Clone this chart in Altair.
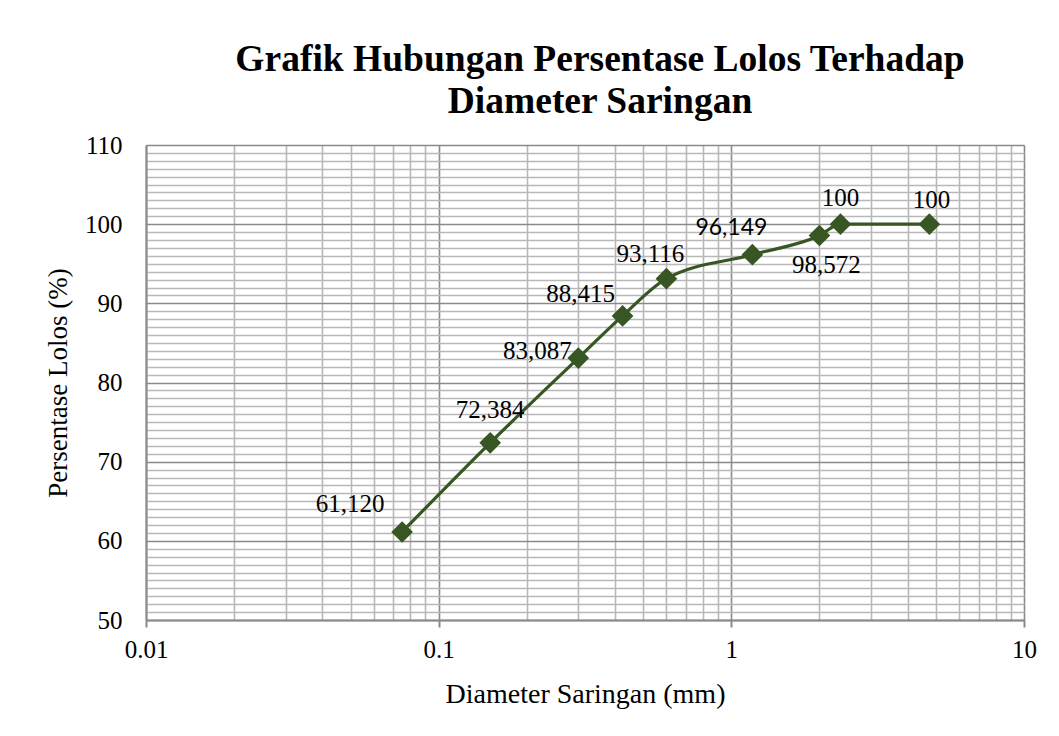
import altair as alt
import pandas as pd

# ---- data ----
diameter = [0.075, 0.15, 0.3, 0.425, 0.6, 1.18, 2.0, 2.36, 4.75]
lolos = [61.120, 72.384, 83.087, 88.415, 93.116, 96.149, 98.572, 100, 100]
labels = ["61,120", "72,384", "83,087", "88,415", "93,116", "96,149", "98,572", "100", "100"]

x_major = [0.01, 0.1, 1, 10]
y_major = [50, 60, 70, 80, 90, 100, 110]

df = pd.DataFrame({"d": diameter, "p": lolos, "lab": labels, "i": list(range(len(diameter)))})

# label styling (offsets in pixels, font)
label_style = [
    (-52, -28, "Liberation Serif"),
    (0, -33, "Liberation Serif"),
    (-41, -7, "Liberation Serif"),
    (-42, -22, "Liberation Serif"),
    (-16, -25, "Liberation Serif"),
    (-21, -27, "Lato"),
    (7, 30, "Liberation Serif"),
    (0, -26, "Liberation Serif"),
    (2, -24, "Liberation Serif"),
]

GREEN = "#375623"
MAJOR = "#8a8a8a"
MINOR = "#b8b8b8"
SERIF = "Liberation Serif"

x_vals = []
for dec in x_major[:-1]:
    for k in range(1, 10):
        x_vals.append(round(dec * k, 6))
x_vals.append(x_major[-1])
y_vals = list(range(y_major[0], y_major[-1] + 1))

is_x_major = "abs(log(datum.value)/LN10 - round(log(datum.value)/LN10)) < 1e-6"
is_y_major = "datum.value % 10 == 0"

x_enc = alt.X(
    "d:Q",
    scale=alt.Scale(type="log", domain=[x_major[0], x_major[-1]], nice=False),
    axis=alt.Axis(
        values=x_vals,
        tickCount=500,
        title="Diameter Saringan (mm)",
        titleFont=SERIF, titleFontSize=28, titleFontWeight="normal", titleColor="#000",
        titlePadding=18,
        labelFont=SERIF, labelFontSize=25, labelColor="#000", labelPadding=10,
        labelExpr=f"({is_x_major}) ? format(datum.value, '~g') : ''",
        labelFlush=False, labelOverlap=False,
        grid=True,
        gridColor={"condition": {"test": is_x_major, "value": MAJOR}, "value": MINOR},
        gridWidth=1.6,
        tickSize=7,
        tickColor={"condition": {"test": is_x_major, "value": MAJOR}, "value": "transparent"},
        tickWidth=2,
        domainColor=MAJOR, domainWidth=2,
    ),
)
y_enc = alt.Y(
    "p:Q",
    scale=alt.Scale(domain=[y_major[0], y_major[-1]], nice=False, zero=False),
    axis=alt.Axis(
        values=y_vals,
        tickCount=500,
        title="Persentase Lolos (%)",
        titleFont=SERIF, titleFontSize=27, titleFontWeight="normal", titleColor="#000",
        titlePadding=12,
        labelFont=SERIF, labelFontSize=25, labelColor="#000", labelPadding=24,
        labelExpr=f"({is_y_major}) ? datum.value : ''",
        labelFlush=False, labelOverlap=False,
        grid=True,
        gridColor={"condition": {"test": is_y_major, "value": MAJOR}, "value": MINOR},
        gridWidth=1.6,
        ticks=False,
        domainColor=MAJOR, domainWidth=2,
    ),
)

base = alt.Chart(df)
line = base.mark_line(color=GREEN, strokeWidth=3.2, interpolate="monotone").encode(x=x_enc, y=y_enc)
pts = base.mark_point(shape="diamond", filled=True, size=470, color=GREEN, opacity=1).encode(x="d:Q", y="p:Q")

texts = []
for idx, (dx, dy, font) in enumerate(label_style):
    texts.append(
        base.transform_filter(f"datum.i == {idx}").mark_text(
            dx=dx, dy=dy, font=font, fontSize=25 if font == SERIF else 23, color="#000", align="center", baseline="middle"
        ).encode(x="d:Q", y="p:Q", text="lab:N")
    )

chart = alt.layer(line, pts, *texts).properties(
    width=878,
    height=475,
    autosize=alt.AutoSizeParams(type="none"),
    padding={"left": 138, "top": 137, "right": 27, "bottom": 108},
    title=alt.TitleParams(
        text=["Grafik Hubungan Persentase Lolos Terhadap", "Diameter Saringan"],
        font=SERIF, fontSize=37.5, fontWeight="bold", color="#000",
        lineHeight=42, anchor="middle", frame="group", offset=13, dx=15,
    ),
).configure_view(stroke=None).configure(background="white")

chart.save("out.html", embed_options={"renderer": "svg", "actions": False})
